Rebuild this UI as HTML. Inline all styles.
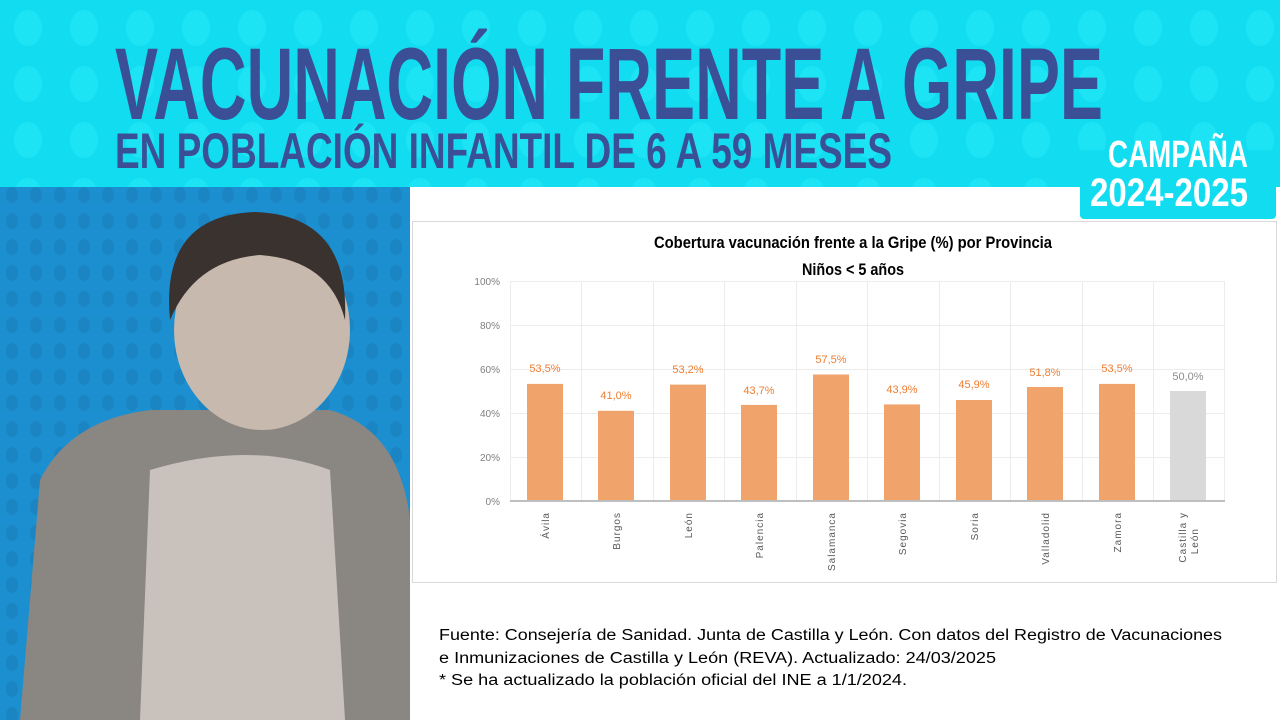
<!DOCTYPE html>
<html><head><meta charset="utf-8"><style>
body{margin:0;width:1280px;height:720px;overflow:hidden;background:#fff;font-family:"Liberation Sans",sans-serif}
</style></head><body>
<svg width="1280" height="720" xmlns="http://www.w3.org/2000/svg" style="position:absolute;left:0;top:0">
<defs>
<pattern id="dots" x="0" y="0" width="56" height="56" patternUnits="userSpaceOnUse">
<ellipse cx="28" cy="28" rx="14" ry="18" fill="#22e8f6" opacity="0.7"/></pattern>
<pattern id="dots2" x="0" y="0" width="24" height="26" patternUnits="userSpaceOnUse">
<ellipse cx="12" cy="13" rx="6" ry="8" fill="#1a7fb8"/></pattern>
</defs>
<rect x="0" y="0" width="1280" height="187" fill="#12dcf0"/>
<rect x="0" y="0" width="1280" height="187" fill="url(#dots)"/>
<rect x="1080" y="150" width="196" height="69" rx="4" fill="#12dcf0"/>
<text x="115" y="119" textLength="988" lengthAdjust="spacingAndGlyphs" font-family="Liberation Sans Narrow, Liberation Sans, sans-serif" font-weight="bold" font-size="102" fill="#3a4f96">VACUNACIÓN FRENTE A GRIPE</text>
<text x="115" y="168" textLength="777" lengthAdjust="spacingAndGlyphs" font-family="Liberation Sans Narrow, Liberation Sans, sans-serif" font-weight="bold" font-size="50" fill="#3a4f96">EN POBLACIÓN INFANTIL DE 6 A 59 MESES</text>
<text x="1108" y="167" textLength="140" lengthAdjust="spacingAndGlyphs" font-family="Liberation Sans Narrow, Liberation Sans, sans-serif" font-weight="bold" font-size="38" fill="#fff">CAMPAÑA</text>
<text x="1090" y="206" textLength="158" lengthAdjust="spacingAndGlyphs" font-family="Liberation Sans Narrow, Liberation Sans, sans-serif" font-weight="bold" font-size="40" fill="#fff">2024-2025</text>
<rect x="0" y="187" width="410" height="533" fill="#1b8fd0"/>
<rect x="0" y="187" width="410" height="533" fill="url(#dots2)" opacity="0.6"/>
<path d="M20 720 L40 480 Q70 420 150 410 L330 410 Q400 430 410 520 L410 720 Z" fill="#8a8682"/>
<path d="M140 720 L150 470 Q250 440 330 470 L345 720 Z" fill="#c9c2bc"/>
<ellipse cx="262" cy="330" rx="88" ry="100" fill="#c8b9ae"/>
<path d="M170 320 Q160 215 255 212 Q350 215 345 320 Q330 260 260 255 Q195 260 170 320 Z" fill="#3a322e"/>
<rect x="412.5" y="221.5" width="864" height="361" fill="#fff" stroke="#d9d9d9"/>
<text x="654" y="248" textLength="398" lengthAdjust="spacingAndGlyphs" font-family="Liberation Sans Narrow, Liberation Sans, sans-serif" font-weight="bold" font-size="17" fill="#000">Cobertura vacunación frente a la Gripe (%) por Provincia</text>
<text x="802" y="275" textLength="102" lengthAdjust="spacingAndGlyphs" font-family="Liberation Sans Narrow, Liberation Sans, sans-serif" font-weight="bold" font-size="17" fill="#000">Niños &lt; 5 años</text>
<g stroke="#ececec" stroke-width="1">
<line x1="510" y1="281.5" x2="1225" y2="281.5"/><line x1="510" y1="325.5" x2="1225" y2="325.5"/>
<line x1="510" y1="369.5" x2="1225" y2="369.5"/><line x1="510" y1="413.5" x2="1225" y2="413.5"/>
<line x1="510" y1="457.5" x2="1225" y2="457.5"/>
<line x1="510.5" y1="281" x2="510.5" y2="501"/><line x1="581.5" y1="281" x2="581.5" y2="501"/><line x1="653.5" y1="281" x2="653.5" y2="501"/><line x1="724.5" y1="281" x2="724.5" y2="501"/><line x1="796.5" y1="281" x2="796.5" y2="501"/><line x1="867.5" y1="281" x2="867.5" y2="501"/><line x1="939.5" y1="281" x2="939.5" y2="501"/><line x1="1010.5" y1="281" x2="1010.5" y2="501"/><line x1="1082.5" y1="281" x2="1082.5" y2="501"/><line x1="1153.5" y1="281" x2="1153.5" y2="501"/><line x1="1224.5" y1="281" x2="1224.5" y2="501"/>
</g>
<g font-family="Liberation Sans Narrow, Liberation Sans, sans-serif" font-size="10" fill="#7f7f7f" text-anchor="end">
<text x="500" y="285">100%</text><text x="500" y="329">80%</text><text x="500" y="373">60%</text><text x="500" y="417">40%</text><text x="500" y="461">20%</text><text x="500" y="505">0%</text>
</g>
<g fill="#f0a46c">
<rect x="527" y="383.9" width="36" height="117.1"/>
<rect x="598" y="410.8" width="36" height="90.2"/>
<rect x="670" y="384.6" width="36" height="116.4"/>
<rect x="741" y="404.9" width="36" height="96.1"/>
<rect x="813" y="374.5" width="36" height="126.5"/>
<rect x="884" y="404.4" width="36" height="96.6"/>
<rect x="956" y="400" width="36" height="101"/>
<rect x="1027" y="387" width="36" height="114"/>
<rect x="1099" y="383.9" width="36" height="117.1"/>
</g>
<rect x="1170" y="391" width="36" height="110" fill="#d9d9d9"/>
<line x1="510" y1="501" x2="1225" y2="501" stroke="#bfbfbf" stroke-width="2"/>
<g font-family="Liberation Sans Narrow, Liberation Sans, sans-serif" font-size="11" fill="#ed7d31" text-anchor="middle">
<text x="545" y="372">53,5%</text><text x="616" y="399">41,0%</text><text x="688" y="373">53,2%</text><text x="759" y="394">43,7%</text><text x="831" y="363">57,5%</text><text x="902" y="393">43,9%</text><text x="974" y="388">45,9%</text><text x="1045" y="376">51,8%</text><text x="1117" y="372">53,5%</text>
<text x="1188" y="380" fill="#8c8c8c">50,0%</text>
</g>
<g font-family="Liberation Sans, sans-serif" font-size="10" fill="#595959" text-anchor="end" letter-spacing="1">
<text transform="translate(549,512) rotate(-90)">Ávila</text>
<text transform="translate(620,512) rotate(-90)">Burgos</text>
<text transform="translate(692,512) rotate(-90)">León</text>
<text transform="translate(763,512) rotate(-90)">Palencia</text>
<text transform="translate(835,512) rotate(-90)">Salamanca</text>
<text transform="translate(906,512) rotate(-90)">Segovia</text>
<text transform="translate(978,512) rotate(-90)">Soria</text>
<text transform="translate(1049,512) rotate(-90)">Valladolid</text>
<text transform="translate(1121,512) rotate(-90)">Zamora</text>
<text transform="translate(1186,512) rotate(-90)">Castilla  y</text>
<text transform="translate(1198,528) rotate(-90)">León</text>
</g>
<g font-family="Liberation Sans, sans-serif" font-size="15.5" fill="#000">
<text x="439" y="640" textLength="783" lengthAdjust="spacingAndGlyphs">Fuente: Consejería de Sanidad. Junta de Castilla y León.  Con datos del Registro de Vacunaciones</text>
<text x="439" y="663" textLength="557" lengthAdjust="spacingAndGlyphs">e Inmunizaciones  de Castilla y León (REVA). Actualizado: 24/03/2025</text>
<text x="439" y="685" textLength="468" lengthAdjust="spacingAndGlyphs">* Se ha actualizado la población oficial del INE a 1/1/2024.</text>
</g>
</svg>
</body></html>
